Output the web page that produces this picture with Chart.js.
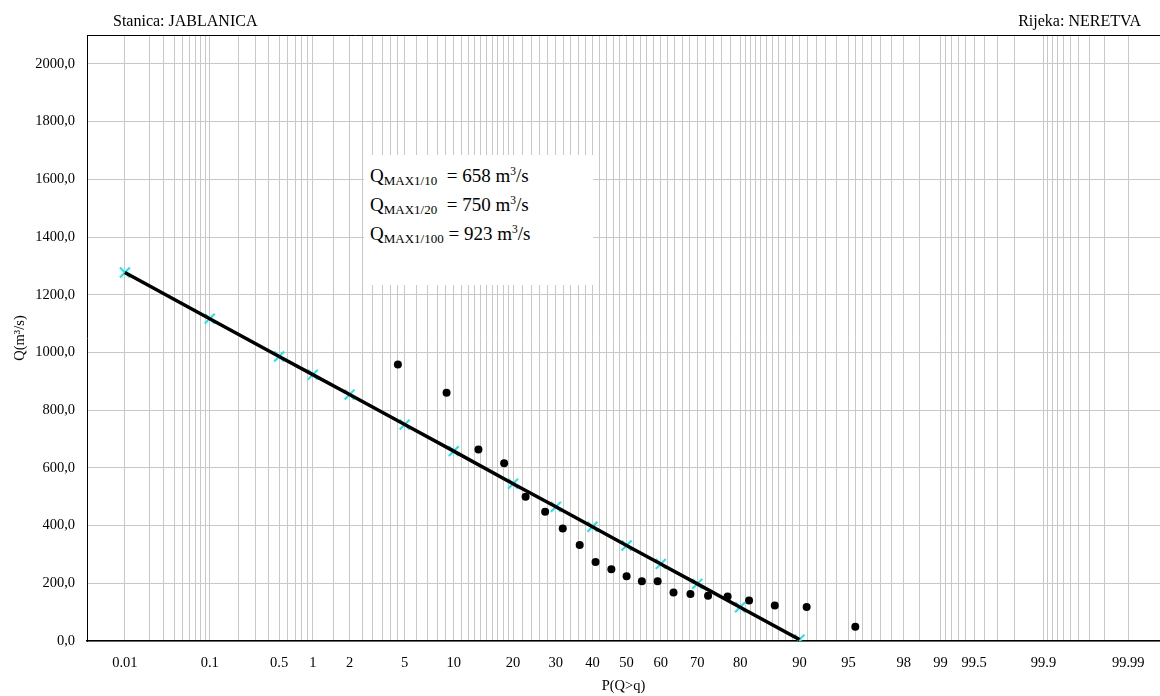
<!DOCTYPE html>
<html>
<head>
<meta charset="utf-8">
<script src="https://cdn.jsdelivr.net/npm/chart.js@4.4.1/dist/chart.umd.min.js"></script>
<style>
  body { margin: 0; background: #fff; }
  #wrap { position: relative; width: 1160px; height: 696px; overflow: hidden; font-family: 'Liberation Serif', 'Times New Roman', serif; color: #000; }
  #c { position: absolute; left: 0; top: 0; }
  .hdr { position: absolute; top: 13px; font-size: 16px; line-height: 16px; white-space: nowrap; }
  #qbox { position: absolute; left: 364px; top: 155px; width: 229px; height: 130px; background: #fff;
          box-sizing: border-box; padding: 6px 0 0 6px; font-size: 19px; line-height: 29px; white-space: pre; }
  #qbox sub { font-size: 13px; line-height: 0; vertical-align: -3px; }
  #qbox sup { font-size: 11.5px; line-height: 0; vertical-align: 7px; }
</style>
</head>
<body>
<div id="wrap">
  <canvas id="c" width="1160" height="696"></canvas>
  <div class="hdr" style="left:113px">Stanica: JABLANICA</div>
  <div class="hdr" style="right:19px">Rijeka: NERETVA</div>
  <div id="qbox"><div>Q<sub>MAX1/10</sub>  = 658 m<sup>3</sup>/s</div><div>Q<sub>MAX1/20</sub>  = 750 m<sup>3</sup>/s</div><div>Q<sub>MAX1/100</sub> = 923 m<sup>3</sup>/s</div></div>
</div>
<script>
// fitted distribution line (probability of exceedance in %, discharge)
const fitP = [0.01, 0.1, 0.5, 1, 2, 5, 10, 20, 30, 40, 50, 60, 70, 80, 90];
const fitQ = [1277, 1117, 986, 923, 854, 750, 658, 545, 465, 396, 331, 267, 198, 117, 5];

// observed annual maxima
const obsP = [4.5, 9.1, 13.6, 18.2, 22.7, 27.3, 31.8, 36.4, 40.9, 45.5, 50.0,
              54.5, 59.1, 63.6, 68.2, 72.7, 77.3, 81.8, 86.4, 90.9, 95.5];
const obsQ = [958, 860, 664, 616, 500, 448, 390, 333, 274, 249, 224,
              207, 207, 168, 163, 157, 154, 140, 123, 118, 49];

// probability paper grid and labelled ticks
const gridP = [0.01, 0.02, 0.03, 0.04, 0.05, 0.06, 0.07, 0.08, 0.09,
  0.1, 0.2, 0.3, 0.4, 0.5, 0.6, 0.7, 0.8, 0.9,
  1, 1.5, 2, 2.5, 3, 3.5, 4, 4.5,
  5, 6, 7, 8, 9, 10, 11, 12, 13, 14, 15, 16, 17, 18, 19,
  20, 22, 24, 26, 28, 30, 32, 34, 36, 38, 40, 42, 44, 46, 48, 50,
  52, 54, 56, 58, 60, 62, 64, 66, 68, 70, 72, 74, 76, 78, 80,
  81, 82, 83, 84, 85, 86, 87, 88, 89, 90, 91, 92, 93, 94, 95,
  95.5, 96, 96.5, 97, 97.5, 98, 98.5, 99,
  99.1, 99.2, 99.3, 99.4, 99.5, 99.6, 99.7, 99.8, 99.9,
  99.91, 99.92, 99.93, 99.94, 99.95, 99.96, 99.97, 99.98, 99.99];
const labelP = [0.01, 0.1, 0.5, 1, 2, 5, 10, 20, 30, 40, 50, 60, 70, 80, 90, 95, 98, 99, 99.5, 99.9, 99.99];
const yTicks = [0, 200, 400, 600, 800, 1000, 1200, 1400, 1600, 1800, 2000];

// inverse standard normal CDF (Acklam) - maps probability to the paper's x axis
function qnorm(p) {
  const a = [-3.969683028665376e+01, 2.209460984245205e+02, -2.759285104469687e+02, 1.383577518672690e+02, -3.066479806614716e+01, 2.506628277459239e+00];
  const b = [-5.447609879822406e+01, 1.615858368580409e+02, -1.556989798598866e+02, 6.680131188771972e+01, -1.328068155288572e+01];
  const c = [-7.784894002430293e-03, -3.223964580411365e-01, -2.400758277161838e+00, -2.549732539343734e+00, 4.374664141464968e+00, 2.938163982698783e+00];
  const d = [7.784695709041462e-03, 3.224671290700398e-01, 2.445134137142996e+00, 3.754408661907416e+00];
  const pl = 0.02425;
  if (p < pl) {
    const q = Math.sqrt(-2 * Math.log(p));
    return (((((c[0]*q+c[1])*q+c[2])*q+c[3])*q+c[4])*q+c[5]) / ((((d[0]*q+d[1])*q+d[2])*q+d[3])*q+1);
  }
  if (p > 1 - pl) {
    const q = Math.sqrt(-2 * Math.log(1 - p));
    return -(((((c[0]*q+c[1])*q+c[2])*q+c[3])*q+c[4])*q+c[5]) / ((((d[0]*q+d[1])*q+d[2])*q+d[3])*q+1);
  }
  const q = p - 0.5, r = q * q;
  return (((((a[0]*r+a[1])*r+a[2])*r+a[3])*r+a[4])*r+a[5])*q / (((((b[0]*r+b[1])*r+b[2])*r+b[3])*r+b[4])*r+1);
}
const z = p => qnorm(p / 100);

const serif = "'Liberation Serif', 'Times New Roman', serif";
const fitPts = fitP.map((p, i) => ({ x: z(p), y: fitQ[i] }));
const obsPts = obsP.map((p, i) => ({ x: z(p), y: obsQ[i] }));

// top frame line
const frameTop = {
  id: 'frameTop',
  beforeDatasetsDraw(chart) {
    const { ctx, chartArea } = chart;
    ctx.save();
    ctx.strokeStyle = '#000';
    ctx.lineWidth = 1;
    ctx.beginPath();
    ctx.moveTo(chartArea.left, chartArea.top + 0.5);
    ctx.lineTo(chartArea.right, chartArea.top + 0.5);
    ctx.stroke();
    ctx.restore();
  }
};

new Chart(document.getElementById('c'), {
  type: 'scatter',
  data: {
    datasets: [
      {
        data: fitPts, showLine: true, borderColor: '#000', borderWidth: 3.5,
        pointRadius: 0, fill: false
      },
      {
        data: fitPts, showLine: false, pointStyle: 'crossRot', pointRadius: 7,
        pointBorderColor: '#1ee3ea', pointBorderWidth: 2
      },
      {
        data: obsPts, showLine: false, pointStyle: 'circle', pointRadius: 4,
        pointBackgroundColor: '#000', pointBorderColor: '#000', pointBorderWidth: 0
      }
    ]
  },
  options: {
    responsive: false,
    animation: false,
    devicePixelRatio: 1,
    layout: { autoPadding: false, padding: { top: 35, right: 0, left: 0, bottom: 0 } },
    plugins: { legend: { display: false }, tooltip: { enabled: false } },
    scales: {
      x: {
        type: 'linear', min: -4, max: 3.954,
        afterBuildTicks: s => { s.ticks = gridP.map(p => ({ value: z(p) })); },
        afterFit: s => { s.height = 55; s.paddingLeft = 0; s.paddingRight = 0; },
        grid: { color: '#c8c8c8', lineWidth: 1, drawTicks: false },
        border: { color: '#000', width: 1.5 },
        ticks: {
          autoSkip: false, maxRotation: 0, padding: 13, color: '#000',
          font: { family: serif, size: 14.5 },
          callback: (v, i) => labelP.includes(gridP[i]) ? String(gridP[i]) : ''
        },
        title: { display: true, text: 'P(Q>q)', color: '#000', font: { family: serif, size: 14.5 }, padding: { top: 0, bottom: 1 } }
      },
      y: {
        type: 'linear', min: 0, max: 2100,
        afterBuildTicks: s => { s.ticks = yTicks.map(v => ({ value: v })); },
        afterFit: s => { s.width = 87; s.paddingTop = 0; s.paddingBottom = 0; },
        grid: { color: '#c8c8c8', lineWidth: 1, drawTicks: false },
        border: { color: '#000', width: 1 },
        ticks: {
          padding: 12, color: '#000',
          font: { family: serif, size: 14.5 },
          callback: v => v.toFixed(1).replace('.', ',')
        },
        title: { display: true, text: 'Q(m³/s)', color: '#000', font: { family: serif, size: 14.5 }, padding: { top: 11, bottom: 0 } }
      }
    }
  },
  plugins: [frameTop]
});
</script>
</body>
</html>
